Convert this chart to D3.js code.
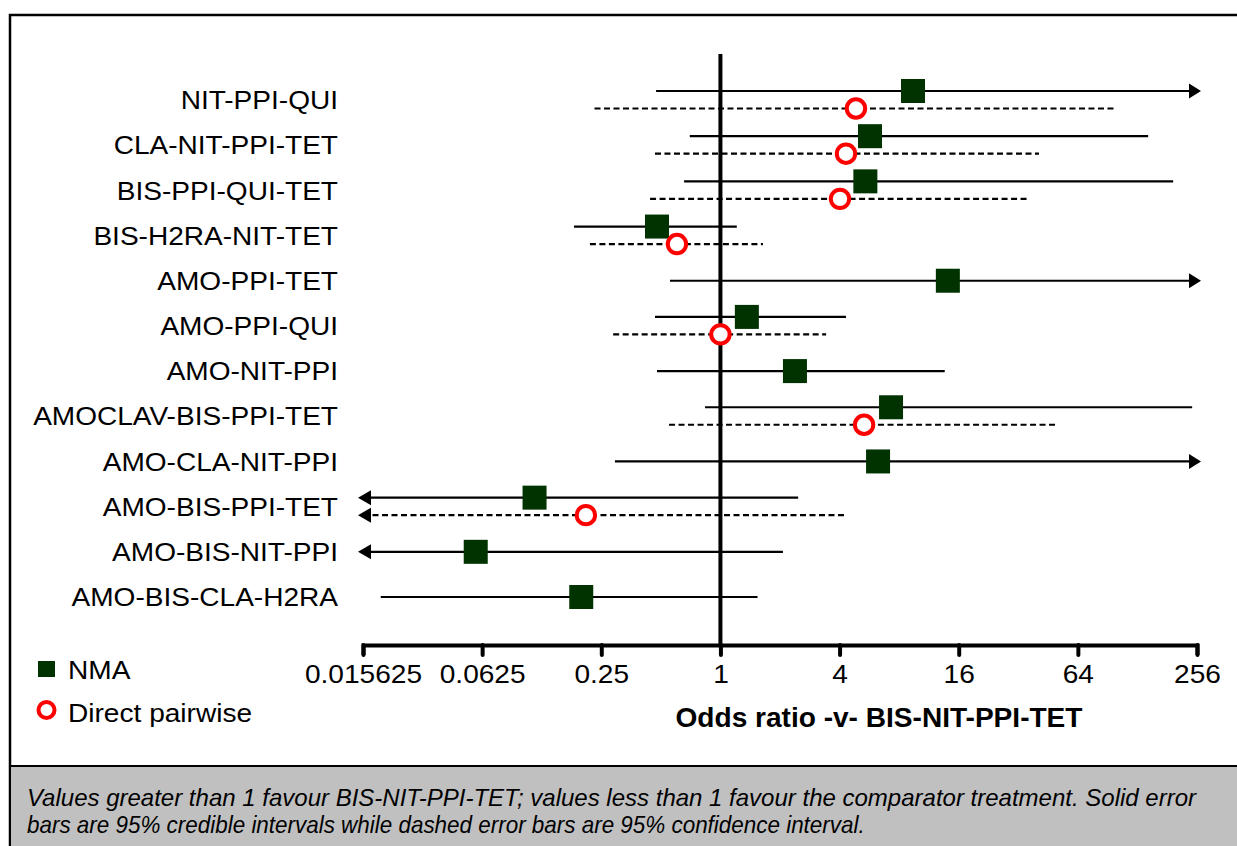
<!DOCTYPE html>
<html>
<head>
<meta charset="utf-8">
<script src="https://cdn.jsdelivr.net/npm/d3@7"></script>
<style>
  html, body { margin: 0; padding: 0; background: #fff; }
  svg { display: block; font-family: "Liberation Sans", Arial, sans-serif; }
</style>
</head>
<body>
<svg id="chart" width="1237" height="846"></svg>
<script>
// Comparator treatments, top to bottom
const treatments = [
  "NIT-PPI-QUI", "CLA-NIT-PPI-TET", "BIS-PPI-QUI-TET", "BIS-H2RA-NIT-TET",
  "AMO-PPI-TET", "AMO-PPI-QUI", "AMO-NIT-PPI", "AMOCLAV-BIS-PPI-TET",
  "AMO-CLA-NIT-PPI", "AMO-BIS-PPI-TET", "AMO-BIS-NIT-PPI", "AMO-BIS-CLA-H2RA"
];

// Network meta-analysis odds ratios with 95% credible intervals
const nmaOR    = [9.4, 5.7, 5.4, 0.478, 14.1, 1.36, 2.38, 7.28, 6.26, 0.115, 0.058, 0.198];
const nmaLower = [0.473, 0.70, 0.655, 0.182, 0.556, 0.467, 0.478, 0.836, 0.293, 0.010, 0.008, 0.0192];
const nmaUpper = [400, 145, 194, 1.21, 450, 4.31, 13.6, 242, 350, 2.47, 2.07, 1.54];

// Direct pairwise odds ratios with 95% confidence intervals (null = no direct evidence)
const directOR    = [4.84, 4.31, 4.02, 0.603, null, 1.0, null, 5.32, null, 0.209, null, null];
const directLower = [0.231, 0.467, 0.441, 0.219, null, 0.287, null, 0.55, null, 0.009, null, null];
const directUpper = [98.7, 40.7, 35.4, 1.64, null, 3.42, null, 49.1, null, 4.26, null, null];

// Axis ticks
const tickValues = [1/64, 1/16, 1/4, 1, 4, 16, 64, 256];
const tickLabels = ["0.015625", "0.0625", "0.25", "1", "4", "16", "64", "256"];

const axisTitle = "Odds ratio -v- BIS-NIT-PPI-TET";
const legendItems = ["NMA", "Direct pairwise"];
const footnote = [
  "Values greater than 1 favour BIS-NIT-PPI-TET; values less than 1 favour the comparator treatment. Solid error",
  "bars are 95% credible intervals while dashed error bars are 95% confidence interval."
];

const svg = d3.select("#chart");
const GREEN = "#003300", RED = "#ff0000";

// Text drawn with a horizontal stretch, anchored at (x, y)
function wideText(g, x0, y0, sx) {
  return g.append("text").attr("x", 0).attr("y", 0)
    .attr("transform", `translate(${x0},${y0}) scale(${sx},1)`);
}

// Outer frame and grey note panel
svg.append("rect").attr("x", 10).attr("y", 15).attr("width", 1260).attr("height", 900)
  .attr("fill", "#fff").attr("stroke", "#000").attr("stroke-width", 2.5);
svg.append("rect").attr("x", 10).attr("y", 766).attr("width", 1260).attr("height", 120)
  .attr("fill", "#c0c0c0").attr("stroke", "#000").attr("stroke-width", 2);

const x = d3.scaleLog().base(2).domain([1/64, 256]).range([363, 1197]);
const y = d3.scalePoint().domain(treatments).range([100, 597]);
const [xMin, xMax] = x.domain();

// Row labels
const labelG = svg.append("g");
treatments.forEach(t => {
  wideText(labelG, 338, y(t), 1.1)
    .attr("dy", "0.36em").attr("text-anchor", "end")
    .attr("font-size", 25.5).attr("fill", "#000").text(t);
});

// Line of no effect
svg.append("line").attr("x1", x(1)).attr("x2", x(1)).attr("y1", 54).attr("y2", 645)
  .attr("stroke", "#000").attr("stroke-width", 4);

// Bottom axis
const axisG = svg.append("g").attr("transform", "translate(0,645)")
  .call(d3.axisBottom(x).tickValues(tickValues).tickFormat((d, i) => tickLabels[i]).tickSizeOuter(0).tickSize(10).tickPadding(10));
axisG.select(".domain").attr("stroke-width", 4).attr("stroke", "#000");
axisG.selectAll(".tick line").attr("stroke-width", 4).attr("stroke", "#000").attr("stroke-linecap", "round");
axisG.selectAll(".tick text").attr("font-size", 26).attr("font-family", "Liberation Sans, Arial, sans-serif")
  .attr("fill", "#000").attr("transform", "scale(1.08,1)");

wideText(svg, 879, 727, 1.04).attr("text-anchor", "middle")
  .attr("font-weight", "bold").attr("font-size", 27).text(axisTitle);

// Build interval records
const rows = treatments.map((t, i) => {
  const hasDirect = directOR[i] !== null;
  return {
    t, hasDirect,
    nma: { est: nmaOR[i], lo: nmaLower[i], hi: nmaUpper[i], dy: hasDirect ? -9 : 0 },
    dir: hasDirect ? { est: directOR[i], lo: directLower[i], hi: directUpper[i], dy: 8.5 } : null
  };
});

function drawInterval(g, iv, yc, dashed) {
  const yy = yc + iv.dy;
  const lo = Math.max(iv.lo, xMin), hi = Math.min(iv.hi, xMax);
  g.append("line").attr("x1", x(lo)).attr("x2", x(hi)).attr("y1", yy).attr("y2", yy)
    .attr("stroke", "#000").attr("stroke-width", 2.2)
    .attr("stroke-dasharray", dashed ? "6,3.5" : null);
  if (iv.hi > xMax) {
    const e = x(xMax);
    g.append("path").attr("d", `M${e - 8},${yy - 7.5}L${e + 4},${yy}L${e - 8},${yy + 7.5}Z`).attr("fill", "#000");
  }
  if (iv.lo < xMin) {
    const s = x(xMin);
    g.append("path").attr("d", `M${s + 8},${yy - 7.5}L${s - 5},${yy}L${s + 8},${yy + 7.5}Z`).attr("fill", "#000");
  }
}

const marks = svg.append("g");
rows.forEach(r => {
  const yc = y(r.t);
  drawInterval(marks, r.nma, yc, false);
  if (r.dir) drawInterval(marks, r.dir, yc, true);
});
rows.forEach(r => {
  const yc = y(r.t);
  marks.append("rect")
    .attr("x", x(r.nma.est) - 12).attr("y", yc + r.nma.dy - 12)
    .attr("width", 24).attr("height", 24).attr("fill", GREEN);
  if (r.dir) {
    marks.append("circle")
      .attr("cx", x(r.dir.est)).attr("cy", yc + r.dir.dy).attr("r", 9.2)
      .attr("fill", "#fff").attr("stroke", RED).attr("stroke-width", 4);
  }
});

// Legend
const leg = svg.append("g");
leg.append("rect").attr("x", 38).attr("y", 661).attr("width", 17).attr("height", 16).attr("fill", GREEN);
leg.append("circle").attr("cx", 46.5).attr("cy", 710).attr("r", 8).attr("fill", "#fff")
  .attr("stroke", RED).attr("stroke-width", 4);
legendItems.forEach((d, i) => {
  wideText(leg, 68, [669, 712][i], 1.06).attr("dy", "0.36em")
    .attr("font-size", 26.5).text(d);
});

// Note text (second line set a little tighter)
const noteG = svg.append("g");
const noteStretch = [1.0, 0.935];
footnote.forEach((d, i) => {
  wideText(noteG, 27, 806 + i * 27, noteStretch[i])
    .attr("font-size", 24).attr("font-style", "italic").text(d);
});
</script>
</body>
</html>
